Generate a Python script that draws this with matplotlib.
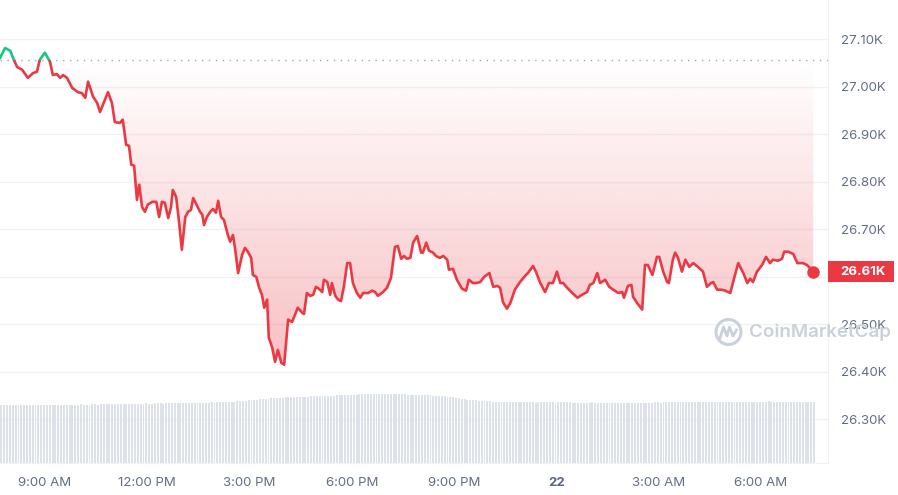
import matplotlib.pyplot as plt
import numpy as np
from matplotlib.patches import Rectangle, Polygon, Circle
from matplotlib import transforms

plt.rcParams['font.family'] = ['Inter', 'DejaVu Sans']

# minutes since 07:41 AM (day 21) and BTC price in USD
minutes = [0, 9, 18, 23, 30, 39, 49, 58, 65, 70, 79, 88, 93, 100, 106, 111, 118, 127, 137, 144,
           150, 155, 164, 171, 176, 183, 190, 197, 202, 211, 216, 222, 227, 231, 236, 241, 245, 250, 255, 260,
           268, 275, 280, 285, 290, 296, 301, 304, 310, 315, 320, 326, 331, 336, 340, 347, 352, 356, 359, 364,
           370, 375, 380, 384, 389, 394, 401, 405, 410, 414, 419, 426, 431, 436, 442, 445, 451, 456, 461, 465,
           470, 473, 479, 484, 489, 495, 500, 507, 514, 519, 524, 532, 535, 540, 546, 551, 556, 561, 567, 570,
           576, 581, 584, 590, 595, 600, 605, 611, 616, 621, 628, 634, 639, 648, 655, 660, 665, 674, 681, 688,
           695, 700, 706, 711, 716, 722, 727, 734, 741, 744, 750, 755, 762, 767, 774, 780, 787, 790, 797, 804,
           813, 820, 825, 832, 838, 845, 852, 861, 868, 875, 880, 885, 892, 898, 906, 915, 924, 929, 938, 943,
           950, 959, 966, 973, 980, 986, 991, 998, 1007, 1016, 1024, 1033, 1038, 1044, 1051, 1056, 1065, 1072, 1079, 1088,
           1095, 1098, 1105, 1111, 1114, 1121, 1130, 1135, 1140, 1148, 1156, 1160, 1167, 1174, 1177, 1184, 1188, 1193, 1200, 1206,
           1213, 1220, 1228, 1237, 1244, 1251, 1255, 1262, 1269, 1276, 1285, 1292, 1299, 1308, 1315, 1320, 1325, 1332, 1341, 1348,
           1355, 1360, 1369, 1376, 1380, 1387, 1396, 1403, 1413, 1420, 1431]
price = [27061, 27082, 27076, 27061, 27042, 27036, 27019, 27029, 27032, 27057, 27072, 27053, 27025, 27027, 27019, 27025, 27019, 26998, 26989, 26987,
         26977, 27011, 26979, 26966, 26947, 26968, 26989, 26966, 26926, 26924, 26931, 26878, 26876, 26836, 26834, 26762, 26794, 26747, 26737, 26752,
         26758, 26758, 26726, 26758, 26756, 26724, 26747, 26783, 26768, 26716, 26657, 26726, 26737, 26741, 26766, 26749, 26737, 26731, 26709, 26726,
         26737, 26743, 26735, 26760, 26726, 26720, 26688, 26674, 26688, 26657, 26608, 26646, 26661, 26653, 26640, 26604, 26600, 26577, 26562, 26535,
         26552, 26472, 26451, 26421, 26446, 26419, 26415, 26510, 26505, 26520, 26535, 26524, 26522, 26566, 26560, 26562, 26579, 26575, 26568, 26594,
         26589, 26562, 26587, 26560, 26552, 26549, 26579, 26629, 26629, 26587, 26566, 26556, 26566, 26566, 26571, 26568, 26560, 26568, 26577, 26598,
         26663, 26665, 26638, 26644, 26638, 26640, 26672, 26686, 26651, 26651, 26672, 26655, 26651, 26644, 26640, 26644, 26636, 26615, 26617, 26594,
         26575, 26571, 26594, 26587, 26587, 26589, 26600, 26608, 26579, 26581, 26577, 26547, 26533, 26545, 26573, 26589, 26602, 26608, 26623, 26611,
         26589, 26568, 26587, 26587, 26611, 26587, 26587, 26577, 26566, 26556, 26562, 26568, 26583, 26587, 26608, 26587, 26594, 26579, 26573, 26566,
         26568, 26556, 26581, 26583, 26558, 26545, 26531, 26625, 26625, 26604, 26642, 26642, 26611, 26589, 26587, 26636, 26651, 26640, 26611, 26636,
         26621, 26629, 26621, 26611, 26579, 26587, 26589, 26573, 26573, 26571, 26566, 26598, 26629, 26608, 26587, 26596, 26589, 26611, 26625, 26642,
         26629, 26636, 26634, 26638, 26653, 26653, 26648, 26629, 26629, 26625, 26611]

# 24h volume (USD billions), one bar per 5 minutes
volume = [
    11.6, 11.6, 11.6, 11.6, 11.6, 11.6, 11.6, 11.7, 11.6, 11.6, 11.6, 11.6,
    11.6, 11.6, 11.7, 11.6, 11.6, 11.6, 11.7, 11.7, 11.6, 11.7, 11.7, 11.7,
    11.7, 11.7, 11.7, 11.7, 11.8, 11.7, 11.7, 11.7, 11.8, 11.8, 11.7, 11.8,
    11.8, 11.8, 11.8, 11.8, 11.8, 11.8, 11.9, 11.8, 11.8, 11.8, 11.9, 11.9,
    11.9, 11.9, 11.9, 12.0, 11.9, 11.9, 12.0, 12.0, 12.0, 11.9, 12.0, 12.0,
    12.0, 12.0, 12.0, 12.0, 12.1, 12.0, 12.0, 12.1, 12.1, 12.0, 12.1, 12.1,
    12.1, 12.1, 12.2, 12.1, 12.2, 12.2, 12.2, 12.2, 12.3, 12.2, 12.3, 12.4,
    12.5, 12.5, 12.5, 12.6, 12.6, 12.6, 12.7, 12.8, 12.8, 12.9, 12.9, 13.0,
    13.0, 13.1, 13.1, 13.1, 13.2, 13.2, 13.2, 13.2, 13.3, 13.3, 13.3, 13.3,
    13.3, 13.4, 13.4, 13.4, 13.4, 13.4, 13.5, 13.5, 13.5, 13.5, 13.6, 13.6,
    13.6, 13.6, 13.7, 13.7, 13.7, 13.7, 13.8, 13.8, 13.8, 13.8, 13.8, 13.8,
    13.8, 13.8, 13.8, 13.9, 13.8, 13.8, 13.8, 13.8, 13.8, 13.8, 13.8, 13.7,
    13.7, 13.7, 13.7, 13.7, 13.6, 13.6, 13.6, 13.6, 13.5, 13.5, 13.5, 13.4,
    13.4, 13.3, 13.3, 13.2, 13.1, 13.0, 12.9, 12.8, 12.7, 12.7, 12.6, 12.6,
    12.5, 12.5, 12.4, 12.4, 12.4, 12.3, 12.3, 12.3, 12.3, 12.2, 12.2, 12.2,
    12.2, 12.2, 12.2, 12.2, 12.2, 12.2, 12.2, 12.2, 12.1, 12.2, 12.2, 12.2,
    12.2, 12.2, 12.2, 12.1, 12.2, 12.2, 12.2, 12.2, 12.2, 12.1, 12.1, 12.1,
    12.1, 12.1, 12.1, 12.1, 12.2, 12.1, 12.1, 12.1, 12.1, 12.1, 12.1, 12.1,
    12.1, 12.0, 12.0, 12.1, 12.1, 12.0, 12.0, 12.1, 12.0, 12.1, 12.1, 12.1,
    12.1, 12.1, 12.2, 12.2, 12.1, 12.2, 12.2, 12.2, 12.2, 12.2, 12.2, 12.2,
    12.2, 12.2, 12.2, 12.2, 12.3, 12.2, 12.2, 12.3, 12.2, 12.2, 12.3, 12.3,
    12.3, 12.3, 12.3, 12.3, 12.3, 12.3, 12.3, 12.3, 12.3, 12.3, 12.3, 12.3,
    12.3, 12.3, 12.3, 12.3, 12.3, 12.3, 12.4, 12.3, 12.3, 12.3, 12.3, 12.3,
    12.3, 12.3, 12.3, 12.3, 12.3, 12.3, 12.3, 12.3, 12.3, 12.3, 12.3,
]

open_price = 27057
last_price = 26611
price_ticks = [26300, 26400, 26500, 26600, 26700, 26800, 26900, 27000, 27100]
time_ticks = [79, 259, 439, 619, 799, 979, 1159, 1339]
time_labels = ['9:00 AM', '12:00 PM', '3:00 PM', '6:00 PM', '9:00 PM', '22', '3:00 AM', '6:00 AM']

RED = '#ea3943'
GREEN = '#16c784'
GRID = '#eff2f5'
TEXT = '#616e85'

fig = plt.figure(figsize=(8.98, 4.95), dpi=100)
ax_w = 828 / 898
ax_b = 32 / 495

ax = fig.add_axes([0, ax_b, ax_w, 1 - ax_b])

t = np.array(minutes, dtype=float)
p = np.array(price, dtype=float)

# gradient fill between opening price and line
verts = list(zip(t, np.minimum(p, open_price))) + [(t[-1], open_price), (t[0], open_price)]
poly = Polygon(verts, closed=True, facecolor='none', edgecolor='none', transform=ax.transData)
ax.add_patch(poly)
grad = np.zeros((256, 1, 4))
grad[:, 0, 0] = 234 / 255
grad[:, 0, 1] = 57 / 255
grad[:, 0, 2] = 67 / 255
grad[:, 0, 3] = np.linspace(0.0, 0.32, 256)
im = ax.imshow(grad, extent=[t[0], t[-1], p.min(), open_price], origin='upper',
               aspect='auto', zorder=1, interpolation='bilinear')
im.set_clip_path(poly)

# price line, green above open and red below
red_line, = ax.plot(t, p, color=RED, lw=1.9, zorder=3, solid_joinstyle='round')
red_line.set_clip_path(Rectangle((-100, 26000), 2000, open_price - 26000, transform=ax.transData))
green_line, = ax.plot(t, p, color=GREEN, lw=1.9, zorder=3, solid_joinstyle='round')
green_line.set_clip_path(Rectangle((-100, open_price), 2000, 1000, transform=ax.transData))
ax.plot(t[-1], p[-1], 'o', color=RED, ms=8, zorder=4)

ax.axhline(open_price, color='#a1a7bb', lw=1, ls=(0, (1, 4)), zorder=2)

ax.set_xlim(0, 1457)
ax.set_ylim(26208, 27183)
ax.grid(axis='y', color=GRID, lw=1, zorder=0)
ax.set_axisbelow(True)
for side in ['top', 'left']:
    ax.spines[side].set_visible(False)
for side in ['right', 'bottom']:
    ax.spines[side].set_color(GRID)

# the 26.60K label sits under the current price tag, so it is left blank
ax.yaxis.tick_right()
ax.set_yticks(price_ticks, ['' if v == 26600 else f'{v / 1000:.2f}K' for v in price_ticks])
ax.set_xticks(time_ticks, time_labels)
ax.tick_params(axis='y', length=0, pad=9, labelsize=9.5, labelcolor=TEXT)
ax.tick_params(axis='x', length=0, pad=10, labelsize=9.5, labelcolor=TEXT)
ax.get_xticklabels()[5].set_fontweight('bold')
ax.get_xticklabels()[5].set_color('#58667e')

# volume bars
vol_ax = fig.add_axes([0, ax_b, ax_w, 80 / 495], facecolor='none')
vol_x = np.arange(len(volume)) * 5 + 2.5
vol_ax.bar(vol_x, volume, width=3.4, color='#dde2ea', linewidth=0)
vol_ax.set_xlim(0, 1457)
vol_ax.set_ylim(0, 16)
vol_ax.axis('off')

# current price tag
tag_tf = transforms.blended_transform_factory(ax.transAxes, ax.transData)
ax.add_patch(Rectangle((1.0, last_price - 22), 0.08, 44, transform=tag_tf,
                       facecolor=RED, edgecolor='none', clip_on=False, zorder=6))
ax.annotate(f'{last_price / 1000:.2f}K', xy=(1.0, last_price), xycoords=tag_tf,
            xytext=(8.6, 0), textcoords='offset points', ha='left', va='center',
            color='white', fontsize=9.5, fontweight='bold', zorder=7, annotation_clip=False)

# watermark
wm = '#c9d1dd'
fig.add_artist(Circle((7.285, 4.95 - 3.32), 0.125, transform=fig.dpi_scale_trans,
                      facecolor='none', edgecolor=wm, lw=2.2))
wx = np.array([7.20, 7.235, 7.27, 7.295, 7.33, 7.365])
wy = 4.95 - np.array([3.38, 3.27, 3.36, 3.27, 3.36, 3.30])
fig.add_artist(plt.Line2D(wx, wy, transform=fig.dpi_scale_trans, color=wm, lw=2.0,
                          solid_joinstyle='round'))
fig.text(7.49 / 8.98, (4.95 - 3.32) / 4.95, 'CoinMarketCap', ha='left', va='center',
         fontsize=13.5, fontweight='semibold', color=wm)

fig.savefig('out.png', dpi=100)
